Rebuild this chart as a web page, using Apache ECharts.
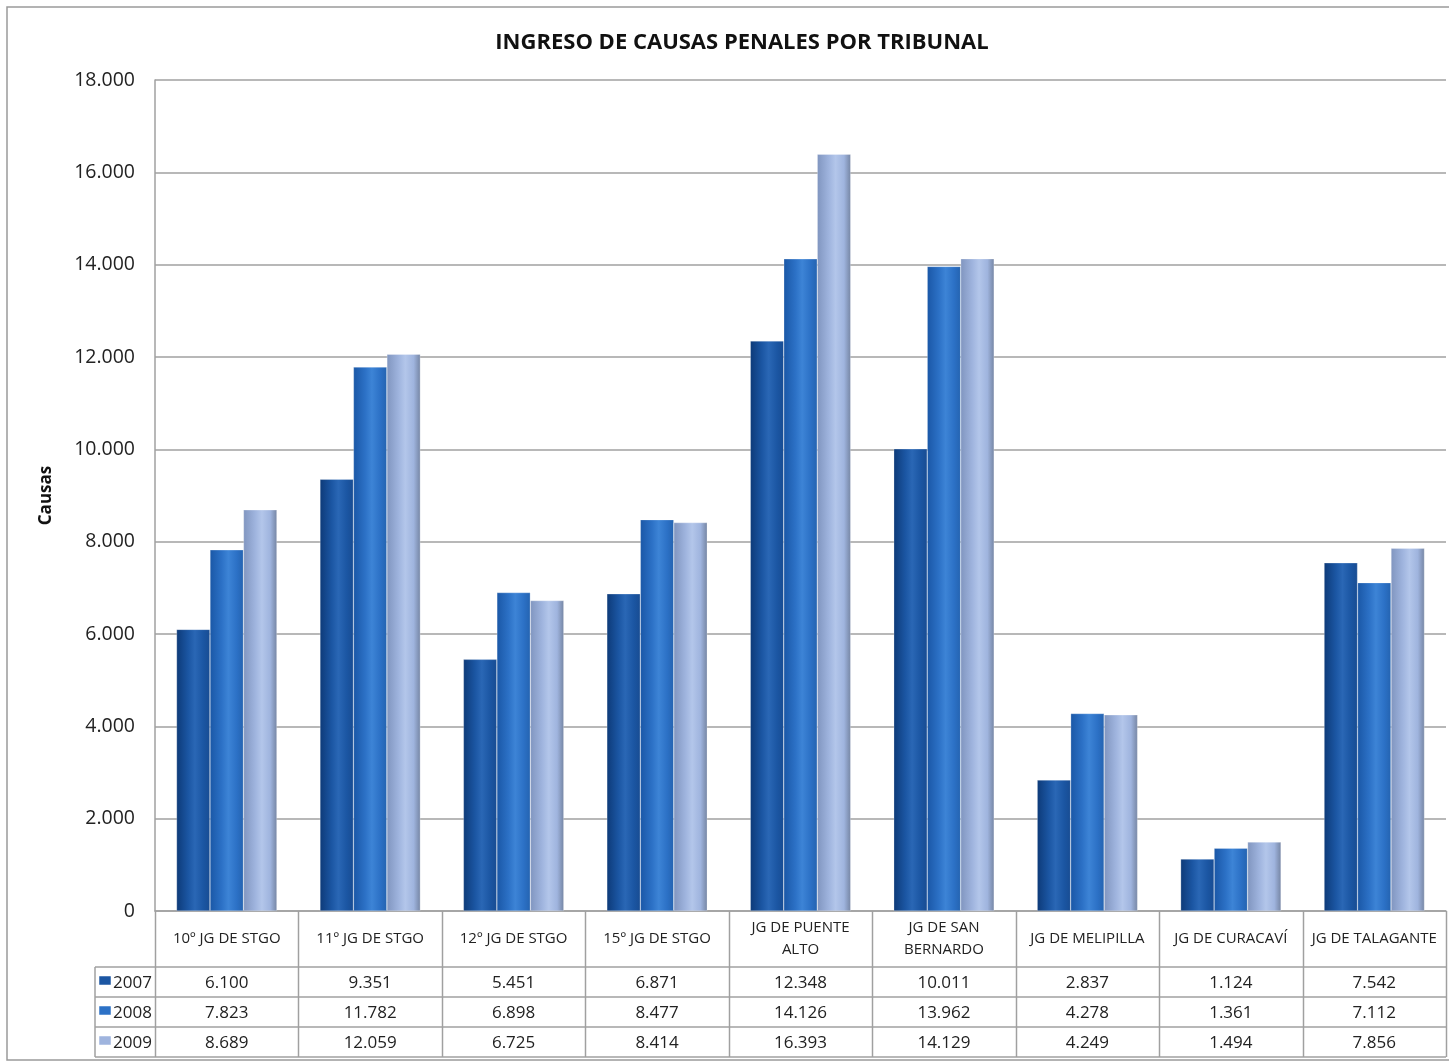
<!DOCTYPE html>
<html><head><meta charset="utf-8">
<script src="https://cdn.jsdelivr.net/npm/echarts@6/dist/echarts.min.js"></script>
<style>html,body{margin:0;padding:0;background:#fff}#c{width:1449px;height:1064px}</style>
</head><body><div id="c"></div>
<script>
var categories = ['10º JG DE STGO','11º JG DE STGO','12º JG DE STGO','15º JG DE STGO','JG DE PUENTE\nALTO','JG DE SAN\nBERNARDO','JG DE MELIPILLA','JG DE CURACAVÍ','JG DE TALAGANTE'];
var years = ['2007','2008','2009'];
var v2007 = [6100, 9351, 5451, 6871, 12348, 10011, 2837, 1124, 7542];
var v2008 = [7823, 11782, 6898, 8477, 14126, 13962, 4278, 1361, 7112];
var v2009 = [8689, 12059, 6725, 8414, 16393, 14129, 4249, 1494, 7856];
var yTicks = [0, 2000, 4000, 6000, 8000, 10000, 12000, 14000, 16000, 18000];
var titleText = 'INGRESO DE CAUSAS PENALES POR TRIBUNAL';
var yName = 'Causas';

var FONT = '"Open Sans",sans-serif';
var W = 1449, H = 1064;
var L = 155, R = 1446, T = 80, B = 911;
var rowY = [911, 967, 997, 1027, 1057];
var legLeft = 95;

function fmt(n){ return String(n).replace(/\B(?=(\d{3})+(?!\d))/g, '.'); }
function grad(edge, mid, hi, right){
  return new echarts.graphic.LinearGradient(0,0,1,0,[
    {offset:0,color:edge},{offset:0.35,color:mid},{offset:0.55,color:hi},{offset:0.8,color:mid},{offset:1,color:right}]);
}
var colors = [
  grad('#0d3a78','#1b56a3','#2a67b5','#184c92'),
  grad('#1a57a6','#2c71c6','#3d84d6','#2463b0'),
  grad('#8095bf','#9fb4de','#b3c6ea','#7585a3')
];
var swatch = ['#1b56a3','#2c71c6','#9fb4de'];
var seriesData = [v2007, v2008, v2009];

var chart = echarts.init(document.getElementById('c'), null, {renderer:'canvas'});

var graphics = [];
graphics.push({type:'rect', shape:{x:7,y:7,width:W,height:1053}, style:{fill:'none',stroke:'#9a9a9a',lineWidth:1.5}, silent:true});
var cw = (R - L) / categories.length;
for (var i = 0; i <= categories.length; i++) {
  var x = Math.round(L + i*cw) + 0.5;
  graphics.push({type:'line', shape:{x1:x,y1:B,x2:x,y2:rowY[4]}, style:{stroke:'#a0a0a0',lineWidth:1.5}, silent:true});
}
graphics.push({type:'line', shape:{x1:legLeft,y1:rowY[1],x2:legLeft,y2:rowY[4]}, style:{stroke:'#a0a0a0',lineWidth:1.5}, silent:true});
for (var r = 1; r < rowY.length; r++) {
  graphics.push({type:'line', shape:{x1:legLeft,y1:rowY[r],x2:R,y2:rowY[r]}, style:{stroke:'#a0a0a0',lineWidth:1.5}, silent:true});
}
for (var s = 0; s < years.length; s++) {
  var cy = (rowY[s+1] + rowY[s+2]) / 2;
  graphics.push({type:'rect', shape:{x:99,y:cy-6,width:12,height:9}, style:{fill:swatch[s], stroke:'#ffffff', lineWidth:0.5}, silent:true});
  graphics.push({type:'text', x:113, y:cy+1, style:{text:years[s], fill:'#222', font:'17px '+FONT, textAlign:'left', textVerticalAlign:'middle'}, silent:true});
  for (var c = 0; c < categories.length; c++) {
    graphics.push({type:'text', x:L + (c+0.5)*cw, y:cy+1, style:{text:fmt(seriesData[s][c]), fill:'#222', font:'17px '+FONT, textAlign:'center', textVerticalAlign:'middle'}, silent:true});
  }
}

chart.setOption({
  animation:false,
  backgroundColor:'#fff',
  title:{text:titleText, left:737, top:27, textAlign:'center', textStyle:{fontFamily:FONT, fontSize:22, fontWeight:'bold', color:'#111'}},
  grid:{left:L, right:W-R, top:T, bottom:H-B, containLabel:false},
  xAxis:{type:'category', data:categories,
    axisLine:{show:true, lineStyle:{color:'#a0a0a0', width:1.5}},
    axisTick:{show:false},
    axisLabel:{margin:28, verticalAlign:'middle', lineHeight:22, fontFamily:FONT, fontSize:15, color:'#222', interval:0}},
  yAxis:{type:'value', min:0, max:18000, interval:2000,
    name:yName, nameLocation:'middle', nameGap:100, nameRotate:90,
    nameTextStyle:{fontFamily:FONT, fontSize:17, fontWeight:'bold', color:'#111'},
    axisLine:{show:true, lineStyle:{color:'#a0a0a0', width:1.5}},
    axisTick:{show:false},
    axisLabel:{formatter:function(v){return fmt(v);}, fontFamily:FONT, fontSize:19.5, color:'#222', margin:20},
    splitLine:{lineStyle:{color:'#a0a0a0', width:1.5}}},
  series: years.map(function(y, i){
    return {name:y, type:'bar', data:seriesData[i], barGap:'0%', barCategoryGap:'30%',
      itemStyle:{color:colors[i], borderColor:'rgba(255,255,255,0.5)', borderWidth:0.5}};
  }),
  graphic: graphics
});
</script></body></html>
